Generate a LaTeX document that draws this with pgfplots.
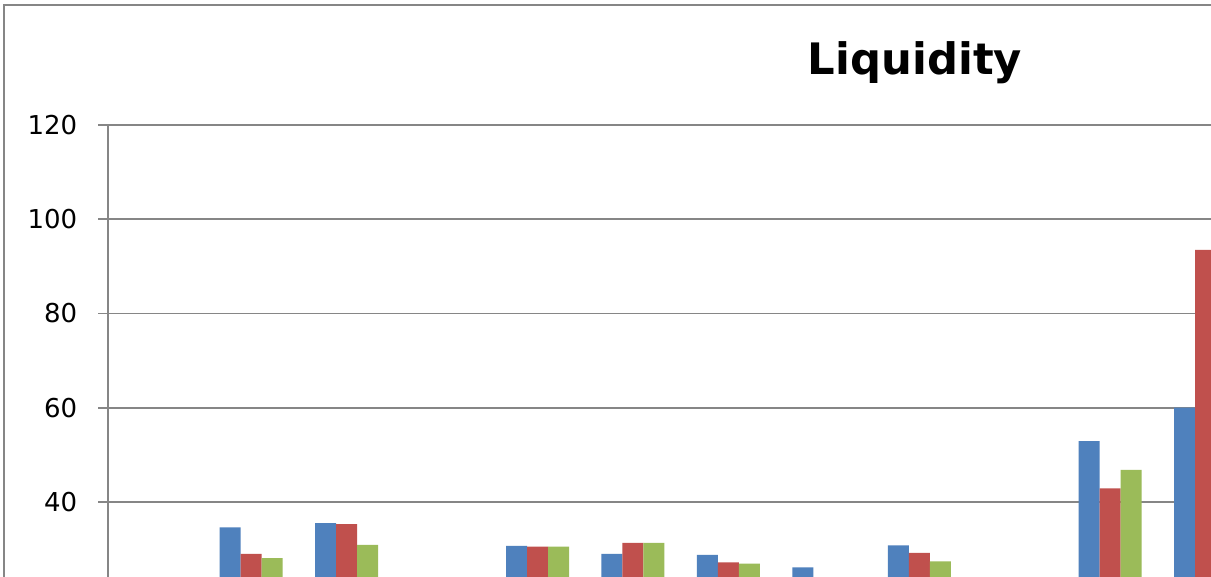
\documentclass[border=0pt]{standalone}
\usepackage{pgfplots}
\pgfplotsset{compat=1.18}
\usepackage{fontspec}
\setmainfont{DejaVu Sans}
\definecolor{sBlue}{HTML}{4F81BD}
\definecolor{sRed}{HTML}{C0504D}
\definecolor{sGreen}{HTML}{9BBB59}
\definecolor{gridc}{HTML}{868686}
\begin{document}
\begin{tikzpicture}
\useasboundingbox (0,0) rectangle (908.25pt,432pt);
\clip (0,0) rectangle (908.25pt,432pt);
\fill[white] (0,0) rectangle (908.25pt,432pt);
\draw[gridc, line width=1.5pt] (3pt,-20pt) -- (3pt,428.25pt) -- (950pt,428.25pt);
\begin{axis}[
  at={(81pt,338.25pt)}, anchor=north west,
  scale only axis, width=859pt, height=424.1pt,
  xmin=-0.5, xmax=11.5, ymin=0, ymax=120,
  ytick={40,60,80,100,120},
  xtick=\empty,
  axis y line=left, axis x line=bottom,
  axis line style={-, gridc, line width=1.2pt},
  ymajorgrids, grid style={gridc, line width=1.2pt},
  tick align=outside, major tick length=7.5pt,
  tick style={gridc, line width=1.2pt},
  /pgf/number format/assume math mode=true,
  yticklabel style={font=\fontsize{19.5pt}{23pt}\selectfont, xshift=-12pt},
  ybar=0pt, bar width=15.75pt,
  clip=false,
]
\addplot[draw=none, fill=sBlue] coordinates {(0,20) (1,34.6) (2,35.5) (3,20) (4,30.7) (5,29.0) (6,28.8) (7,26.1) (8,30.8) (9,20) (10,52.9) (11,60.0)};
\addplot[draw=none, fill=sRed] coordinates {(0,20) (1,29.0) (2,35.3) (3,20) (4,30.5) (5,31.3) (6,27.2) (7,22) (8,29.2) (9,20) (10,42.9) (11,93.5)};
\addplot[draw=none, fill=sGreen] coordinates {(0,20) (1,28.1) (2,30.9) (3,20) (4,30.5) (5,31.3) (6,26.9) (7,21) (8,27.4) (9,20) (10,46.8) (11,60)};
\end{axis}
\node[anchor=base, font=\fontsize{32.5pt}{38pt}\selectfont\bfseries] at (686.25pt,375.75pt) {Liquidity};
\end{tikzpicture}
\end{document}
